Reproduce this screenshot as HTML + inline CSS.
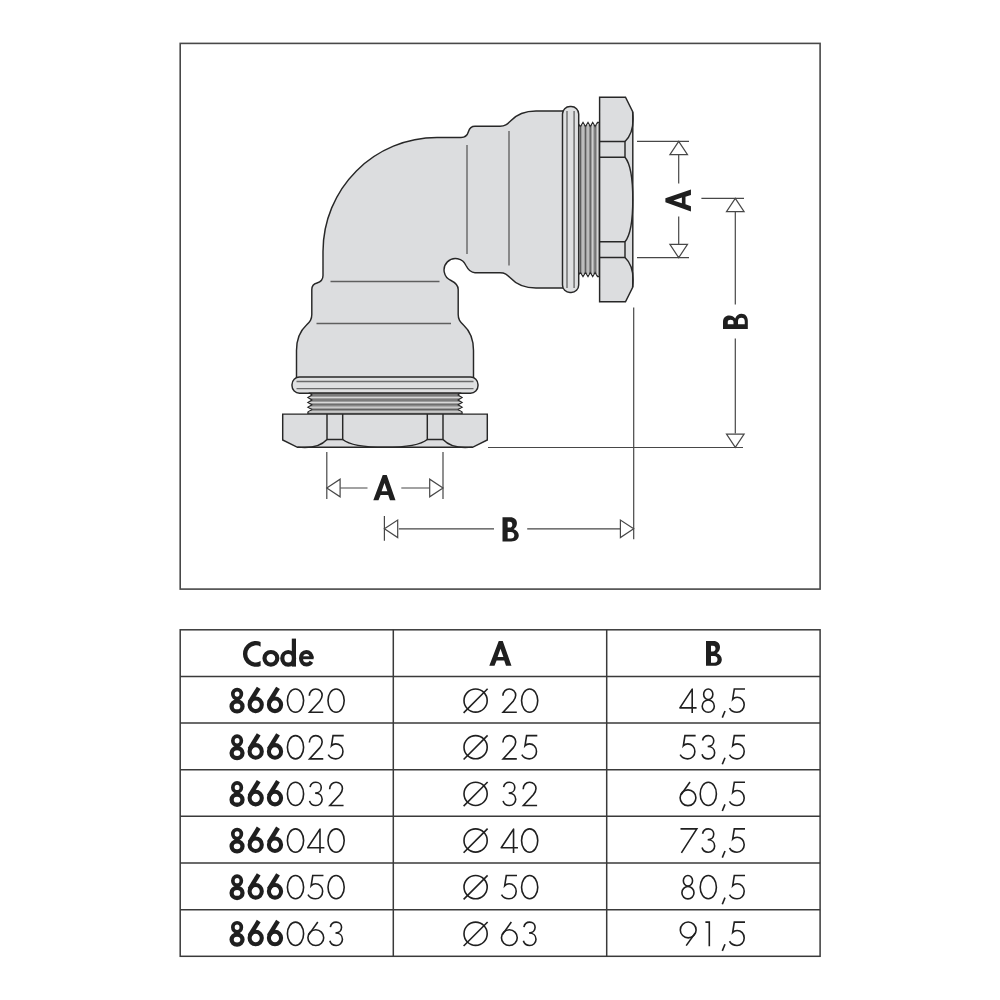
<!DOCTYPE html>
<html><head><meta charset="utf-8"><style>
html,body{margin:0;padding:0;background:#fff;}
body{width:1000px;height:1000px;overflow:hidden;font-family:"Liberation Sans",sans-serif;}
svg{display:block;}
</style></head><body>
<svg width="1000" height="1000" viewBox="0 0 1000 1000">
<rect x="180.2" y="43.4" width="639.9" height="545.7" fill="none" stroke="#484848" stroke-width="1.6"/>

<path d="M356.39,170.89 A114 114 0 0 1 437,137.5 L461,137.5 C465.5,137.5 467.5,135 468.5,131.5 C469.5,128 471,126.3 475,126.3 L500,126.3 C505,126.3 507,124.5 510.5,121 C516,115 524,111 536,111 L570,111 L570,288 L536,288 C524,288 516,284 510.5,278 C507,274.5 505,272.7 500,272.7 L475,272.7 C470,272.7 468,269.5 466,265.5 A11.5 11.5 0 0 0 447.37,261.87 A11.5 11.5 0 0 0 451,280.5 C455,282.5 458.2,284.5 458.2,289.5 L458.2,314.5 C458.2,319.5 460,321.5 463.5,325 C469.5,330.5 473.5,338.5 473.5,350.5 L473.5,384.5 L296.5,384.5 L296.5,350.5 C296.5,338.5 300.5,330.5 306.5,325 C310,321.5 311.8,319.5 311.8,314.5 L311.8,289.5 C311.8,285.5 313.5,284 317,283 C320.5,282 323,280 323,275.5 L323,251.5 A114 114 0 0 1 356.39,170.89 Z" fill="#dcdddf" stroke="#272727" stroke-width="1.45"/>
<g>
<line x1="467" y1="145" x2="467" y2="254" stroke="#5f5f5f" stroke-width="1.35"/>
<line x1="509" y1="131" x2="509" y2="265.5" stroke="#5f5f5f" stroke-width="1.35"/>
<rect x="562.5" y="106.5" width="16.2" height="186" rx="7.5" ry="7.5" fill="#dfe0e1" stroke="#272727" stroke-width="1.45"/>
<line x1="567" y1="111" x2="567" y2="288" stroke="#6a6a6a" stroke-width="1.4"/>
<line x1="574.1" y1="111" x2="574.1" y2="288" stroke="#6a6a6a" stroke-width="1.4"/>
<path d="M578.7,124.5 L580.5,126.5 L583,122.4 L585.5,126.5 L588,122.4 L590.3,126.5 L592.7,122.4 L595.1,126.5 L597.5,122.4 L599.6,122.4 L599.6,276.6 L597.5,276.6 L595.1,272.5 L592.7,276.6 L590.3,272.5 L588,276.6 L585.5,272.5 L583,276.6 L580.5,272.5 L578.7,274.5 Z" fill="#9c9c9c" stroke="#272727" stroke-width="1.2" stroke-linejoin="miter"/>
<line x1="580.5" y1="126.5" x2="580.5" y2="272.5" stroke="#555" stroke-width="0.9"/>
<line x1="585.5" y1="126.5" x2="585.5" y2="272.5" stroke="#555" stroke-width="0.9"/>
<line x1="590.3" y1="126.5" x2="590.3" y2="272.5" stroke="#555" stroke-width="0.9"/>
<line x1="595.1" y1="126.5" x2="595.1" y2="272.5" stroke="#555" stroke-width="0.9"/>
<line x1="583" y1="124" x2="583" y2="275" stroke="#d8d8d8" stroke-width="1.1"/>
<line x1="588" y1="124" x2="588" y2="275" stroke="#d8d8d8" stroke-width="1.1"/>
<line x1="592.7" y1="124" x2="592.7" y2="275" stroke="#d8d8d8" stroke-width="1.1"/>
<line x1="597.4" y1="124" x2="597.4" y2="275" stroke="#d8d8d8" stroke-width="1.1"/>

<path d="M599.6,97.2 L625.5,97.2 L632.8,112 L632.8,287 L625.5,301.8 L599.6,301.8 Z" fill="#dcdddf" stroke="#272727" stroke-width="1.45" stroke-linejoin="miter"/>
<path d="M599.6,141.5 L625,141.5 L625,157.2 L599.6,157.2 M599.6,241.8 L625,241.8 L625,257.5 L599.6,257.5" fill="none" stroke="#272727" stroke-width="1.45"/>
<path d="M632.6,112 C634,124 632,135 625,141.5 M625,157.2 C631.5,165 632.8,180 632.8,199.5 C632.8,219 631.5,234 625,241.8 M632.6,287 C634,275 632,264 625,257.5" fill="none" stroke="#272727" stroke-width="1.45"/>
</g>
<g transform="matrix(0,1,1,0,185.5,-185.5)">
<line x1="467" y1="145" x2="467" y2="254" stroke="#5f5f5f" stroke-width="1.35"/>
<line x1="509" y1="131" x2="509" y2="265.5" stroke="#5f5f5f" stroke-width="1.35"/>
<rect x="562.5" y="106.5" width="16.2" height="186" rx="7.5" ry="7.5" fill="#dfe0e1" stroke="#272727" stroke-width="1.45"/>
<line x1="567" y1="111" x2="567" y2="288" stroke="#6a6a6a" stroke-width="1.4"/>
<line x1="574.1" y1="111" x2="574.1" y2="288" stroke="#6a6a6a" stroke-width="1.4"/>
<path d="M578.7,124.5 L580.5,126.5 L583,122.4 L585.5,126.5 L588,122.4 L590.3,126.5 L592.7,122.4 L595.1,126.5 L597.5,122.4 L599.6,122.4 L599.6,276.6 L597.5,276.6 L595.1,272.5 L592.7,276.6 L590.3,272.5 L588,276.6 L585.5,272.5 L583,276.6 L580.5,272.5 L578.7,274.5 Z" fill="#9c9c9c" stroke="#272727" stroke-width="1.2" stroke-linejoin="miter"/>
<line x1="580.5" y1="126.5" x2="580.5" y2="272.5" stroke="#555" stroke-width="0.9"/>
<line x1="585.5" y1="126.5" x2="585.5" y2="272.5" stroke="#555" stroke-width="0.9"/>
<line x1="590.3" y1="126.5" x2="590.3" y2="272.5" stroke="#555" stroke-width="0.9"/>
<line x1="595.1" y1="126.5" x2="595.1" y2="272.5" stroke="#555" stroke-width="0.9"/>
<line x1="583" y1="124" x2="583" y2="275" stroke="#d8d8d8" stroke-width="1.1"/>
<line x1="588" y1="124" x2="588" y2="275" stroke="#d8d8d8" stroke-width="1.1"/>
<line x1="592.7" y1="124" x2="592.7" y2="275" stroke="#d8d8d8" stroke-width="1.1"/>
<line x1="597.4" y1="124" x2="597.4" y2="275" stroke="#d8d8d8" stroke-width="1.1"/>

<path d="M599.6,97.2 L625.5,97.2 L632.8,112 L632.8,287 L625.5,301.8 L599.6,301.8 Z" fill="#dcdddf" stroke="#272727" stroke-width="1.45" stroke-linejoin="miter"/>
<path d="M599.6,141.5 L625,141.5 L625,157.2 L599.6,157.2 M599.6,241.8 L625,241.8 L625,257.5 L599.6,257.5" fill="none" stroke="#272727" stroke-width="1.45"/>
<path d="M632.6,112 C634,124 632,135 625,141.5 M625,157.2 C631.5,165 632.8,180 632.8,199.5 C632.8,219 631.5,234 625,241.8 M632.6,287 C634,275 632,264 625,257.5" fill="none" stroke="#272727" stroke-width="1.45"/>
</g>


<g stroke="#474747" stroke-width="1.2" fill="none">
<path d="M637,141.3 H689 M637,257.7 H689 M678.7,154.5 V183.5 M678.7,216.5 V244.5"/>
<path d="M701.4,198.3 H744 M735.3,211.5 V304.4 M735.3,338.4 V433.6 M488,447.5 H743 M633.7,307.5 V539.2"/>
<path d="M326.8,452 V499 M443,452 V499 M340.2,488 H367.5 M401.3,488 H429.9"/>
<path d="M384.4,516 V540.7 M398.8,528.8 H494 M527.2,528.8 H620.4"/>
</g>
<path d="M678.7,141.3 L687.5,154.6 L669.9,154.6 Z" fill="#fff" stroke="#474747" stroke-width="1.2" stroke-linejoin="miter"/>
<path d="M678.7,257.7 L669.9,244.4 L687.5,244.4 Z" fill="#fff" stroke="#474747" stroke-width="1.2" stroke-linejoin="miter"/>
<path d="M735.3,198.3 L744.1,211.6 L726.5,211.6 Z" fill="#fff" stroke="#474747" stroke-width="1.2" stroke-linejoin="miter"/>
<path d="M735.3,447.4 L726.5,434.1 L744.1,434.1 Z" fill="#fff" stroke="#474747" stroke-width="1.2" stroke-linejoin="miter"/>
<path d="M326.8,488 L340.1,479.2 L340.1,496.8 Z" fill="#fff" stroke="#474747" stroke-width="1.2" stroke-linejoin="miter"/>
<path d="M443,488 L429.7,496.8 L429.7,479.2 Z" fill="#fff" stroke="#474747" stroke-width="1.2" stroke-linejoin="miter"/>
<path d="M384.4,528.8 L397.7,520 L397.7,537.6 Z" fill="#fff" stroke="#474747" stroke-width="1.2" stroke-linejoin="miter"/>
<path d="M633.7,528.8 L620.4,537.6 L620.4,520 Z" fill="#fff" stroke="#474747" stroke-width="1.2" stroke-linejoin="miter"/>

<path fill="#1f1f1f" fill-rule="evenodd" transform="matrix(1,0,0,1.02,373.3,475)" d="M0,24.8 L9.45,0 L13.45,0 L22.2,24.8 L16.7,24.8 L14.9,19.5 L7.3,19.5 L5.2,24.8 Z M8.3,16 L14.1,16 L11.2,7.8 Z"/><path fill="#1f1f1f" fill-rule="evenodd" transform="matrix(1.03,0,0,0.98,502.5,517.2)" d="M0,0 H7.5 C11.5,0 14,2.5 14,6.2 C14,8.8 12.8,10.8 10.8,12.2 C14,13.2 15.8,15.8 15.8,18.5 C15.8,22.3 13,24.8 8.5,24.8 H0 Z M5,4.75 H7 C8.7,4.75 9.5,5.9 9.5,7.6 C9.5,9.3 8.7,10.5 7,10.5 H5 Z M5,15 H8 C10.3,15 11.5,16.5 11.5,18.4 C11.5,20.4 10.3,21.75 8,21.75 H5 Z"/><path fill="#1f1f1f" fill-rule="evenodd" transform="matrix(0,-0.99,1.03,0,665.4,211.5)" d="M0,24.8 L9.45,0 L13.45,0 L22.2,24.8 L16.7,24.8 L14.9,19.5 L7.3,19.5 L5.2,24.8 Z M8.3,16 L14.1,16 L11.2,7.8 Z"/><path fill="#1f1f1f" fill-rule="evenodd" transform="matrix(0,-0.97,1,0,723,329)" d="M0,0 H7.5 C11.5,0 14,2.5 14,6.2 C14,8.8 12.8,10.8 10.8,12.2 C14,13.2 15.8,15.8 15.8,18.5 C15.8,22.3 13,24.8 8.5,24.8 H0 Z M5,4.75 H7 C8.7,4.75 9.5,5.9 9.5,7.6 C9.5,9.3 8.7,10.5 7,10.5 H5 Z M5,15 H8 C10.3,15 11.5,16.5 11.5,18.4 C11.5,20.4 10.3,21.75 8,21.75 H5 Z"/>
<g stroke="#3a3a3a" stroke-width="1.5" fill="none"><rect x="180.2" y="629.8" width="639.9" height="326.5"/><line x1="180.2" y1="676.44" x2="820.1" y2="676.44"/><line x1="180.2" y1="723.09" x2="820.1" y2="723.09"/><line x1="180.2" y1="769.73" x2="820.1" y2="769.73"/><line x1="180.2" y1="816.37" x2="820.1" y2="816.37"/><line x1="180.2" y1="863.01" x2="820.1" y2="863.01"/><line x1="180.2" y1="909.66" x2="820.1" y2="909.66"/><line x1="393.3" y1="629.8" x2="393.3" y2="956.3"/><line x1="606.7" y1="629.8" x2="606.7" y2="956.3"/></g>
<path fill="#1f1f1f" fill-rule="evenodd" transform="matrix(1,0,0,1,489.3,641)" d="M0,24.8 L9.45,0 L13.45,0 L22.2,24.8 L16.7,24.8 L14.9,19.5 L7.3,19.5 L5.2,24.8 Z M8.3,16 L14.1,16 L11.2,7.8 Z"/><path fill="#1f1f1f" fill-rule="evenodd" transform="matrix(1,0,0,1,706,641)" d="M0,0 H7.5 C11.5,0 14,2.5 14,6.2 C14,8.8 12.8,10.8 10.8,12.2 C14,13.2 15.8,15.8 15.8,18.5 C15.8,22.3 13,24.8 8.5,24.8 H0 Z M5,4.75 H7 C8.7,4.75 9.5,5.9 9.5,7.6 C9.5,9.3 8.7,10.5 7,10.5 H5 Z M5,15 H8 C10.3,15 11.5,16.5 11.5,18.4 C11.5,20.4 10.3,21.75 8,21.75 H5 Z"/><path fill="#1f1f1f" d="M260.6,641.9 A12.9 12.9 0 1 0 260.6,665.9 L260.6,661.1 A8.6 8.6 0 1 1 260.6,646.7 Z"/><g fill="none" stroke="#1f1f1f" stroke-width="4.2"><ellipse cx="270.9" cy="658.3" rx="6.4" ry="6.3"/><ellipse cx="288.2" cy="658.3" rx="5.9" ry="6.3"/></g><rect x="291.8" y="638.6" width="4.2" height="28" fill="#1f1f1f"/><path fill="none" stroke="#1f1f1f" stroke-width="4" d="M311.6,658 C311.6,654.2 309.3,651.9 306.3,651.9 C303,651.9 301,654.8 301,658.2 C301,661.8 303.3,664.6 306.5,664.6 C308.6,664.6 310.3,663.6 311.4,661.8"/><rect x="301" y="656.3" width="12.6" height="2.9" fill="#1f1f1f"/>
<g fill="none" stroke="#1f1f1f" stroke-width="1.6"><g transform="translate(286.7,688.25)"><ellipse cx="8.8" cy="12.35" rx="8.1" ry="11.65"/></g><g transform="translate(308.45,688.25)"><path d="M0.9,7.6 C0.9,3.5 3.8,0.7 7.3,0.7 C10.9,0.7 13.7,3.4 13.7,7.0 C13.7,9.4 12.6,11.2 11.2,13.0 L1.1,24.0 L14.8,24.0"/></g><g transform="translate(327.3,688.25)"><ellipse cx="8.8" cy="12.35" rx="8.1" ry="11.65"/></g><g transform="translate(502,688.25)"><path d="M0.9,7.6 C0.9,3.5 3.8,0.7 7.3,0.7 C10.9,0.7 13.7,3.4 13.7,7.0 C13.7,9.4 12.6,11.2 11.2,13.0 L1.1,24.0 L14.8,24.0"/></g><g transform="translate(520.85,688.25)"><ellipse cx="8.8" cy="12.35" rx="8.1" ry="11.65"/></g><g transform="translate(679,688.25)"><path stroke-linejoin="round" d="M13.2,24.7 V0.9 L0.9,19.6 H17.6"/></g><g transform="translate(701.5,688.25)"><ellipse cx="6.75" cy="6.0" rx="4.6" ry="5.3"/><ellipse cx="6.75" cy="17.9" rx="6.05" ry="6.15"/></g><path d="M725,711.05 L722.3,717.65"/><g transform="translate(728.8,688.25)"><path d="M16.2,0.7 H5.5 L3.9,10.9 C5,9.7 6.4,9.0 8.3,9.0 C12.4,9.0 15.4,12.3 15.4,16.5 C15.4,20.8 12.3,24.0 8.2,24.0 C5,24.0 2.2,22.4 0.7,19.8"/></g><circle cx="475.6" cy="700.55" r="11.6"/><path d="M463.6,712.85 L487.6,688.75"/><g transform="translate(286.7,734.89)"><ellipse cx="8.8" cy="12.35" rx="8.1" ry="11.65"/></g><g transform="translate(308.45,734.89)"><path d="M0.9,7.6 C0.9,3.5 3.8,0.7 7.3,0.7 C10.9,0.7 13.7,3.4 13.7,7.0 C13.7,9.4 12.6,11.2 11.2,13.0 L1.1,24.0 L14.8,24.0"/></g><g transform="translate(327.55,734.89)"><path d="M16.2,0.7 H5.5 L3.9,10.9 C5,9.7 6.4,9.0 8.3,9.0 C12.4,9.0 15.4,12.3 15.4,16.5 C15.4,20.8 12.3,24.0 8.2,24.0 C5,24.0 2.2,22.4 0.7,19.8"/></g><g transform="translate(502,734.89)"><path d="M0.9,7.6 C0.9,3.5 3.8,0.7 7.3,0.7 C10.9,0.7 13.7,3.4 13.7,7.0 C13.7,9.4 12.6,11.2 11.2,13.0 L1.1,24.0 L14.8,24.0"/></g><g transform="translate(521.1,734.89)"><path d="M16.2,0.7 H5.5 L3.9,10.9 C5,9.7 6.4,9.0 8.3,9.0 C12.4,9.0 15.4,12.3 15.4,16.5 C15.4,20.8 12.3,24.0 8.2,24.0 C5,24.0 2.2,22.4 0.7,19.8"/></g><g transform="translate(679.45,734.89)"><path d="M16.2,0.7 H5.5 L3.9,10.9 C5,9.7 6.4,9.0 8.3,9.0 C12.4,9.0 15.4,12.3 15.4,16.5 C15.4,20.8 12.3,24.0 8.2,24.0 C5,24.0 2.2,22.4 0.7,19.8"/></g><g transform="translate(701.35,734.89)"><path d="M1.2,5.6 C1.8,2.6 4.2,0.7 7.0,0.7 C10.2,0.7 12.4,3 12.4,5.9 C12.4,9.2 9.8,11.6 6.3,11.6 C10.6,11.6 13.3,14.3 13.3,17.8 C13.3,21.4 10.5,24.0 7,24.0 C3.9,24.0 1.4,22.2 0.7,19.3"/></g><path d="M725,757.69 L722.3,764.29"/><g transform="translate(728.8,734.89)"><path d="M16.2,0.7 H5.5 L3.9,10.9 C5,9.7 6.4,9.0 8.3,9.0 C12.4,9.0 15.4,12.3 15.4,16.5 C15.4,20.8 12.3,24.0 8.2,24.0 C5,24.0 2.2,22.4 0.7,19.8"/></g><circle cx="475.6" cy="747.19" r="11.6"/><path d="M463.6,759.49 L487.6,735.39"/><g transform="translate(286.7,781.54)"><ellipse cx="8.8" cy="12.35" rx="8.1" ry="11.65"/></g><g transform="translate(308.85,781.54)"><path d="M1.2,5.6 C1.8,2.6 4.2,0.7 7.0,0.7 C10.2,0.7 12.4,3 12.4,5.9 C12.4,9.2 9.8,11.6 6.3,11.6 C10.6,11.6 13.3,14.3 13.3,17.8 C13.3,21.4 10.5,24.0 7,24.0 C3.9,24.0 1.4,22.2 0.7,19.3"/></g><g transform="translate(328.75,781.54)"><path d="M0.9,7.6 C0.9,3.5 3.8,0.7 7.3,0.7 C10.9,0.7 13.7,3.4 13.7,7.0 C13.7,9.4 12.6,11.2 11.2,13.0 L1.1,24.0 L14.8,24.0"/></g><g transform="translate(502.4,781.54)"><path d="M1.2,5.6 C1.8,2.6 4.2,0.7 7.0,0.7 C10.2,0.7 12.4,3 12.4,5.9 C12.4,9.2 9.8,11.6 6.3,11.6 C10.6,11.6 13.3,14.3 13.3,17.8 C13.3,21.4 10.5,24.0 7,24.0 C3.9,24.0 1.4,22.2 0.7,19.3"/></g><g transform="translate(522.3,781.54)"><path d="M0.9,7.6 C0.9,3.5 3.8,0.7 7.3,0.7 C10.9,0.7 13.7,3.4 13.7,7.0 C13.7,9.4 12.6,11.2 11.2,13.0 L1.1,24.0 L14.8,24.0"/></g><g transform="translate(679.4,781.54)"><circle cx="8.6" cy="16.2" r="7.9"/><path d="M10.6,0.5 L1.6,13.2"/></g><g transform="translate(699.5,781.54)"><ellipse cx="8.8" cy="12.35" rx="8.1" ry="11.65"/></g><path d="M725,804.34 L722.3,810.94"/><g transform="translate(728.8,781.54)"><path d="M16.2,0.7 H5.5 L3.9,10.9 C5,9.7 6.4,9.0 8.3,9.0 C12.4,9.0 15.4,12.3 15.4,16.5 C15.4,20.8 12.3,24.0 8.2,24.0 C5,24.0 2.2,22.4 0.7,19.8"/></g><circle cx="475.6" cy="793.84" r="11.6"/><path d="M463.6,806.14 L487.6,782.04"/><g transform="translate(286.7,828.18)"><ellipse cx="8.8" cy="12.35" rx="8.1" ry="11.65"/></g><g transform="translate(306.8,828.18)"><path stroke-linejoin="round" d="M13.2,24.7 V0.9 L0.9,19.6 H17.6"/></g><g transform="translate(327.3,828.18)"><ellipse cx="8.8" cy="12.35" rx="8.1" ry="11.65"/></g><g transform="translate(500.35,828.18)"><path stroke-linejoin="round" d="M13.2,24.7 V0.9 L0.9,19.6 H17.6"/></g><g transform="translate(520.85,828.18)"><ellipse cx="8.8" cy="12.35" rx="8.1" ry="11.65"/></g><g transform="translate(679.8,828.18)"><path d="M0.7,0.7 H17.0 L1.6,24.7"/></g><g transform="translate(701.35,828.18)"><path d="M1.2,5.6 C1.8,2.6 4.2,0.7 7.0,0.7 C10.2,0.7 12.4,3 12.4,5.9 C12.4,9.2 9.8,11.6 6.3,11.6 C10.6,11.6 13.3,14.3 13.3,17.8 C13.3,21.4 10.5,24.0 7,24.0 C3.9,24.0 1.4,22.2 0.7,19.3"/></g><path d="M725,850.98 L722.3,857.58"/><g transform="translate(728.8,828.18)"><path d="M16.2,0.7 H5.5 L3.9,10.9 C5,9.7 6.4,9.0 8.3,9.0 C12.4,9.0 15.4,12.3 15.4,16.5 C15.4,20.8 12.3,24.0 8.2,24.0 C5,24.0 2.2,22.4 0.7,19.8"/></g><circle cx="475.6" cy="840.48" r="11.6"/><path d="M463.6,852.78 L487.6,828.68"/><g transform="translate(286.7,874.82)"><ellipse cx="8.8" cy="12.35" rx="8.1" ry="11.65"/></g><g transform="translate(307.25,874.82)"><path d="M16.2,0.7 H5.5 L3.9,10.9 C5,9.7 6.4,9.0 8.3,9.0 C12.4,9.0 15.4,12.3 15.4,16.5 C15.4,20.8 12.3,24.0 8.2,24.0 C5,24.0 2.2,22.4 0.7,19.8"/></g><g transform="translate(327.3,874.82)"><ellipse cx="8.8" cy="12.35" rx="8.1" ry="11.65"/></g><g transform="translate(500.8,874.82)"><path d="M16.2,0.7 H5.5 L3.9,10.9 C5,9.7 6.4,9.0 8.3,9.0 C12.4,9.0 15.4,12.3 15.4,16.5 C15.4,20.8 12.3,24.0 8.2,24.0 C5,24.0 2.2,22.4 0.7,19.8"/></g><g transform="translate(520.85,874.82)"><ellipse cx="8.8" cy="12.35" rx="8.1" ry="11.65"/></g><g transform="translate(681.2,874.82)"><ellipse cx="6.75" cy="6.0" rx="4.6" ry="5.3"/><ellipse cx="6.75" cy="17.9" rx="6.05" ry="6.15"/></g><g transform="translate(699.5,874.82)"><ellipse cx="8.8" cy="12.35" rx="8.1" ry="11.65"/></g><path d="M725,897.62 L722.3,904.22"/><g transform="translate(728.8,874.82)"><path d="M16.2,0.7 H5.5 L3.9,10.9 C5,9.7 6.4,9.0 8.3,9.0 C12.4,9.0 15.4,12.3 15.4,16.5 C15.4,20.8 12.3,24.0 8.2,24.0 C5,24.0 2.2,22.4 0.7,19.8"/></g><circle cx="475.6" cy="887.12" r="11.6"/><path d="M463.6,899.42 L487.6,875.32"/><g transform="translate(286.7,921.46)"><ellipse cx="8.8" cy="12.35" rx="8.1" ry="11.65"/></g><g transform="translate(307.2,921.46)"><circle cx="8.6" cy="16.2" r="7.9"/><path d="M10.6,0.5 L1.6,13.2"/></g><g transform="translate(329.15,921.46)"><path d="M1.2,5.6 C1.8,2.6 4.2,0.7 7.0,0.7 C10.2,0.7 12.4,3 12.4,5.9 C12.4,9.2 9.8,11.6 6.3,11.6 C10.6,11.6 13.3,14.3 13.3,17.8 C13.3,21.4 10.5,24.0 7,24.0 C3.9,24.0 1.4,22.2 0.7,19.3"/></g><g transform="translate(500.75,921.46)"><circle cx="8.6" cy="16.2" r="7.9"/><path d="M10.6,0.5 L1.6,13.2"/></g><g transform="translate(522.7,921.46)"><path d="M1.2,5.6 C1.8,2.6 4.2,0.7 7.0,0.7 C10.2,0.7 12.4,3 12.4,5.9 C12.4,9.2 9.8,11.6 6.3,11.6 C10.6,11.6 13.3,14.3 13.3,17.8 C13.3,21.4 10.5,24.0 7,24.0 C3.9,24.0 1.4,22.2 0.7,19.3"/></g><g transform="translate(679.4,921.46)"><circle cx="8.8" cy="8.5" r="7.9"/><path d="M6.8,24.2 L15.8,11.5"/></g><g transform="translate(705.4,921.46)"><path d="M0,0.7 H3.9 V24.7"/></g><path d="M725,944.26 L722.3,950.86"/><g transform="translate(728.8,921.46)"><path d="M16.2,0.7 H5.5 L3.9,10.9 C5,9.7 6.4,9.0 8.3,9.0 C12.4,9.0 15.4,12.3 15.4,16.5 C15.4,20.8 12.3,24.0 8.2,24.0 C5,24.0 2.2,22.4 0.7,19.8"/></g><circle cx="475.6" cy="933.76" r="11.6"/><path d="M463.6,946.06 L487.6,921.96"/></g>
<g fill="none" stroke="#1f1f1f"><g transform="translate(0,0)"><ellipse cx="237.1" cy="694.1" rx="4.25" ry="4.55" stroke-width="3.7"/><ellipse cx="237.05" cy="706.4" rx="5.45" ry="5.05" stroke-width="4.3"/><ellipse cx="255.7" cy="704.8" rx="6.1" ry="6.3" stroke-width="4.1"/><path d="M258.7,687.8 L249.6,702.5" stroke-width="4.4"/><ellipse cx="275" cy="704.8" rx="6.1" ry="6.3" stroke-width="4.1"/><path d="M278,687.8 L268.9,702.5" stroke-width="4.4"/></g><g transform="translate(0,46.64)"><ellipse cx="237.1" cy="694.1" rx="4.25" ry="4.55" stroke-width="3.7"/><ellipse cx="237.05" cy="706.4" rx="5.45" ry="5.05" stroke-width="4.3"/><ellipse cx="255.7" cy="704.8" rx="6.1" ry="6.3" stroke-width="4.1"/><path d="M258.7,687.8 L249.6,702.5" stroke-width="4.4"/><ellipse cx="275" cy="704.8" rx="6.1" ry="6.3" stroke-width="4.1"/><path d="M278,687.8 L268.9,702.5" stroke-width="4.4"/></g><g transform="translate(0,93.29)"><ellipse cx="237.1" cy="694.1" rx="4.25" ry="4.55" stroke-width="3.7"/><ellipse cx="237.05" cy="706.4" rx="5.45" ry="5.05" stroke-width="4.3"/><ellipse cx="255.7" cy="704.8" rx="6.1" ry="6.3" stroke-width="4.1"/><path d="M258.7,687.8 L249.6,702.5" stroke-width="4.4"/><ellipse cx="275" cy="704.8" rx="6.1" ry="6.3" stroke-width="4.1"/><path d="M278,687.8 L268.9,702.5" stroke-width="4.4"/></g><g transform="translate(0,139.93)"><ellipse cx="237.1" cy="694.1" rx="4.25" ry="4.55" stroke-width="3.7"/><ellipse cx="237.05" cy="706.4" rx="5.45" ry="5.05" stroke-width="4.3"/><ellipse cx="255.7" cy="704.8" rx="6.1" ry="6.3" stroke-width="4.1"/><path d="M258.7,687.8 L249.6,702.5" stroke-width="4.4"/><ellipse cx="275" cy="704.8" rx="6.1" ry="6.3" stroke-width="4.1"/><path d="M278,687.8 L268.9,702.5" stroke-width="4.4"/></g><g transform="translate(0,186.57)"><ellipse cx="237.1" cy="694.1" rx="4.25" ry="4.55" stroke-width="3.7"/><ellipse cx="237.05" cy="706.4" rx="5.45" ry="5.05" stroke-width="4.3"/><ellipse cx="255.7" cy="704.8" rx="6.1" ry="6.3" stroke-width="4.1"/><path d="M258.7,687.8 L249.6,702.5" stroke-width="4.4"/><ellipse cx="275" cy="704.8" rx="6.1" ry="6.3" stroke-width="4.1"/><path d="M278,687.8 L268.9,702.5" stroke-width="4.4"/></g><g transform="translate(0,233.21)"><ellipse cx="237.1" cy="694.1" rx="4.25" ry="4.55" stroke-width="3.7"/><ellipse cx="237.05" cy="706.4" rx="5.45" ry="5.05" stroke-width="4.3"/><ellipse cx="255.7" cy="704.8" rx="6.1" ry="6.3" stroke-width="4.1"/><path d="M258.7,687.8 L249.6,702.5" stroke-width="4.4"/><ellipse cx="275" cy="704.8" rx="6.1" ry="6.3" stroke-width="4.1"/><path d="M278,687.8 L268.9,702.5" stroke-width="4.4"/></g></g>
</svg>
</body></html>
